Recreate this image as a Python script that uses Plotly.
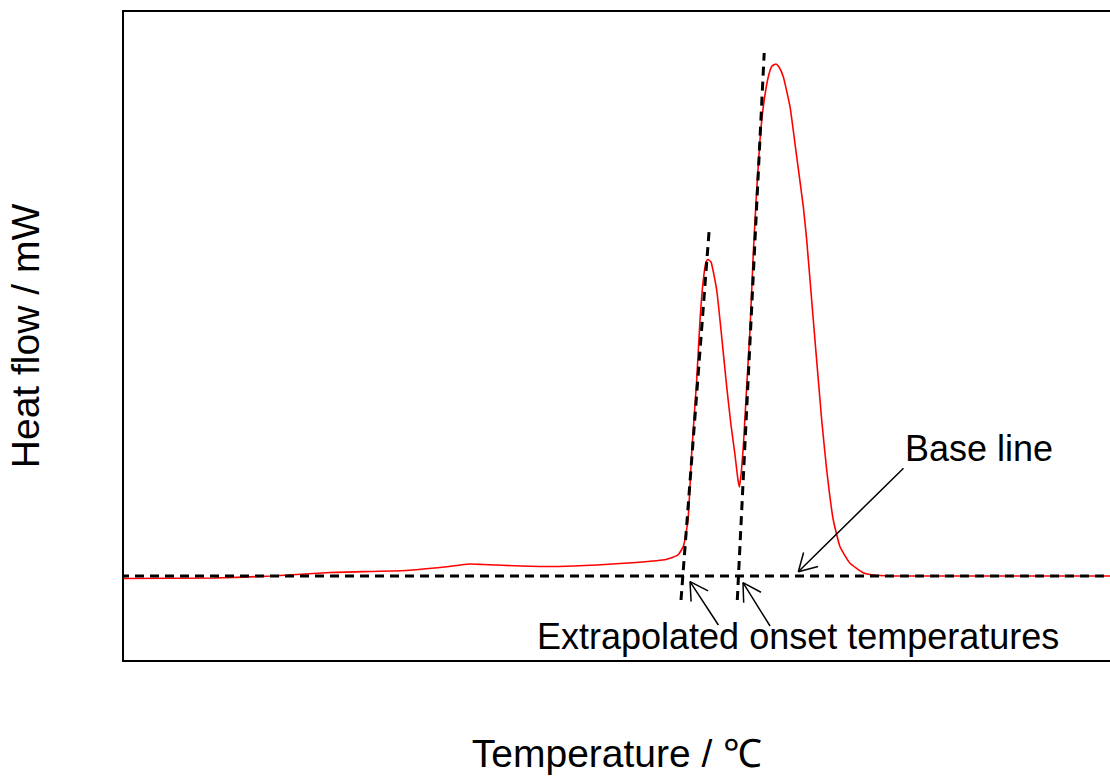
import math
import plotly.graph_objects as go

# DSC curve (temperature in degC, heat flow in mW, baseline = 0)
temperature = [25.0, 43.2, 54.6, 66.2, 81.4, 89.0, 94.0, 96.8, 104.4, 112.0, 119.6, 127.4,
               133.4, 135.8, 136.9, 137.8, 138.54, 139.54, 140.2, 140.86, 141.4, 141.8, 142.4,
               143.54, 144.4, 145.54, 146.4, 147.2, 147.8, 148.1, 148.5, 148.86, 149.54, 150.2,
               150.86, 151.54, 152.2, 152.86, 153.86, 154.6, 155.4, 156.0, 156.86, 158.2,
               159.54, 160.86, 161.54, 162.86, 164.54, 165.54, 166.86, 168.2, 170.2, 172.86,
               174.86, 180.2, 200.2, 222.2]
heat_flow = [-0.025, -0.02, 0.0, 0.035, 0.055, 0.09, 0.12, 0.115, 0.10, 0.095, 0.11, 0.135,
             0.165, 0.21, 0.30, 0.56, 1.23, 1.96, 2.56, 2.96, 3.14, 3.165, 3.14,
             2.86, 2.46, 1.893, 1.51, 1.21, 0.96, 0.89, 1.06, 1.293, 1.893, 2.46,
             3.227, 3.86, 4.36, 4.693, 4.993, 5.10, 5.12, 5.09, 4.993, 4.693,
             4.193, 3.693, 3.36, 2.56, 1.56, 1.06, 0.56, 0.293, 0.127, 0.033,
             0.01, 0.0, 0.0, 0.0]

# Baseline and tangent lines
baseline_T = [24.2, 222.2]
baseline_H = [0.0, 0.0]
tangent1_T = [136.4, 142.06]
tangent1_H = [-0.24, 3.477]
tangent2_T = [147.66, 153.04]
tangent2_H = [-0.24, 5.23]

# Arrow tips (data coords)
onset_tip_T = [138.2, 148.8]
onset_tip_H = [-0.057, -0.067]
base_tip_T = 159.86
base_tip_H = 0.043

x_range = [25, 222.2]
y_range = [-0.84, 5.64]

fig = go.Figure()
fig.add_trace(go.Scatter(x=temperature, y=heat_flow, mode="lines",
                         line=dict(color="#ff0000", width=1.6, shape="spline", smoothing=0.4),
                         showlegend=False, hoverinfo="skip"))
dash = "9px,6px"
for xs, ys in [(baseline_T, baseline_H), (tangent1_T, tangent1_H), (tangent2_T, tangent2_H)]:
    fig.add_trace(go.Scatter(x=xs, y=ys, mode="lines",
                             line=dict(color="black", width=3, dash=dash),
                             showlegend=False, hoverinfo="skip"))


def add_arrow(tx, ty, dx, dy, length=22, angle=30):
    # shaft from tail (pixel offset dx, dy) to tip, plus two open barbs
    segs = [(dx, dy)]
    a = math.atan2(dy, dx)
    for s in (-1, 1):
        b = a + s * math.radians(angle)
        segs.append((length * math.cos(b), length * math.sin(b)))
    for (ax, ay) in segs:
        fig.add_annotation(x=tx, y=ty, ax=ax, ay=ay, text=" ", showarrow=True,
                           arrowhead=0, arrowwidth=1.5, arrowcolor="black",
                           standoff=0, startstandoff=0, font=dict(size=1))


add_arrow(onset_tip_T[0], onset_tip_H[0], 29.7, 45.3)
add_arrow(onset_tip_T[1], onset_tip_H[1], 28.3, 45.3)
add_arrow(base_tip_T, base_tip_H, 106.7, -105)

font_family = "Liberation Sans, Arial, Helvetica, sans-serif"
fig.add_annotation(x=195.9, y=1.28, text="Base line", showarrow=False,
                   font=dict(size=36, color="black", family=font_family))
fig.add_annotation(x=159.7, y=-0.60, text="Extrapolated onset temperatures", showarrow=False,
                   font=dict(size=36, color="black", family=font_family))

fig.update_layout(
    width=1110, height=776,
    margin=dict(l=124, r=0, t=12, b=116),
    paper_bgcolor="white", plot_bgcolor="white",
    font=dict(family=font_family, color="black"),
    xaxis=dict(range=x_range, showgrid=False, zeroline=False, showticklabels=False,
               ticks="", showline=True, linecolor="black", linewidth=1.5, mirror=True,
               title=dict(text="Temperature / ℃", font=dict(size=39), standoff=79)),
    yaxis=dict(range=y_range, showgrid=False, zeroline=False, showticklabels=False,
               ticks="", showline=True, linecolor="black", linewidth=1.5,
               title=dict(text="Heat flow / mW", font=dict(size=39), standoff=71)),
)

fig.write_html("out.html", config={"displayModeBar": False},
               post_script="document.body.style.margin='0';document.body.style.overflow='hidden';")
